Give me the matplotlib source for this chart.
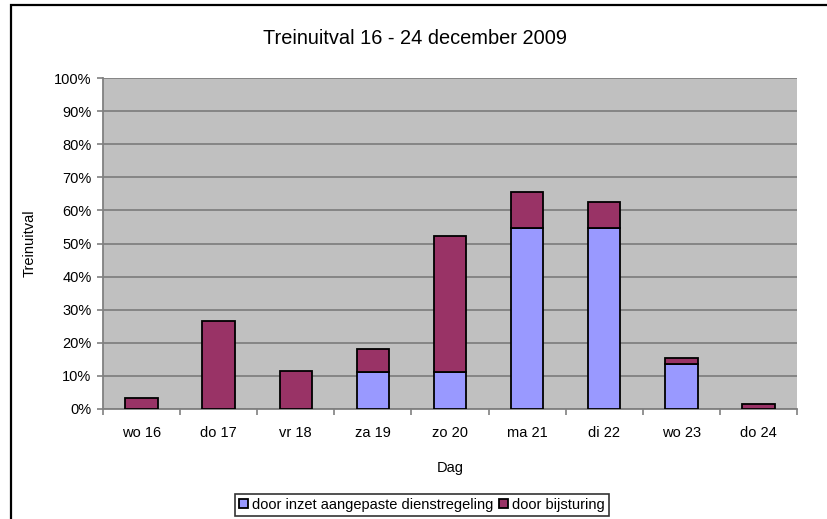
import matplotlib
matplotlib.use("Agg")
import matplotlib.pyplot as plt
from matplotlib.patches import Rectangle, Patch
from matplotlib.ticker import MultipleLocator, PercentFormatter
import numpy as np

plt.rcParams["font.family"] = ["Liberation Sans", "DejaVu Sans"]

dagen = ["wo 16", "do 17", "vr 18", "za 19", "zo 20", "ma 21", "di 22", "wo 23", "do 24"]
aangepast = [0.0, 0.0, 0.0, 11.3, 11.3, 54.8, 54.8, 13.5, 0.0]
bijsturing = [3.4, 26.5, 11.5, 6.7, 41.1, 10.9, 7.8, 2.0, 1.6]

kleur_blauw = "#9999FF"
kleur_paars = "#993366"

W, H = 828, 519
fig = plt.figure(figsize=(W / 100, H / 100), dpi=100)
# plot area in pixels: x 103..797, y 78..409
ax = fig.add_axes([103 / W, 1 - 409 / H, (797 - 103) / W, (409 - 78) / H])

x = np.arange(len(dagen))
w = 0.42
ax.bar(x, aangepast, w, color=kleur_blauw, edgecolor="black", linewidth=1.3, zorder=3)
ax.bar(x, bijsturing, w, bottom=aangepast, color=kleur_paars, edgecolor="black",
       linewidth=1.3, zorder=3)

ax.set_facecolor("#C0C0C0")
ax.set_xlim(-0.5, len(dagen) - 0.5)
ax.set_ylim(0, 100)
ax.yaxis.set_major_locator(MultipleLocator(10))
ax.yaxis.set_major_formatter(PercentFormatter(decimals=0))
ax.grid(axis="y", color="#808080", linewidth=1.3, zorder=1)

ax.set_xticks(x)
ax.set_xticklabels(dagen)
ax.set_xticks(np.arange(len(dagen) + 1) - 0.5, minor=True)
ax.tick_params(axis="x", which="major", length=0, pad=12, labelsize=10.5)
ax.tick_params(axis="x", which="minor", length=4.3, color="#808080", width=1.2)
ax.tick_params(axis="y", length=4.3, color="#808080", width=1.2, labelsize=10.5, pad=4)

for side in ["top", "right"]:
    ax.spines[side].set_visible(False)
for side in ["left", "bottom"]:
    ax.spines[side].set_color("#808080")
    ax.spines[side].set_linewidth(1.3)

ax.set_xlabel("Dag", fontsize=10.5, va="center")
ax.xaxis.set_label_coords(0.5, (409 - 468) / (409 - 78))
ax.set_ylabel("Treinuitval", fontsize=10.5, va="center")
ax.yaxis.set_label_coords((30 - 103) / (797 - 103), 0.5)

fig.text(415 / W, 1 - 38 / H, "Treinuitval 16 - 24 december 2009", ha="center", va="center",
         fontsize=14.4)

handles = [Patch(facecolor=kleur_blauw, edgecolor="black", linewidth=1.3),
           Patch(facecolor=kleur_paars, edgecolor="black", linewidth=1.3)]
leg = fig.legend(handles, ["door inzet aangepaste dienstregeling", "door bijsturing"],
                 loc="center", bbox_to_anchor=(422 / W, 1 - 505 / H), ncol=2,
                 fontsize=10.5, frameon=True, fancybox=False, handlelength=0.6,
                 handleheight=0.6, handletextpad=0.3, columnspacing=0.4,
                 borderpad=0.25, borderaxespad=0)
leg.get_frame().set_edgecolor("black")
leg.get_frame().set_linewidth(1.2)

# rand om de grafiek (rechts en onder buiten beeld)
fig.patches.append(Rectangle((11 / W, -20 / H), 840 / W, (H - 5 + 20) / H,
                             transform=fig.transFigure, fill=False, edgecolor="black",
                             linewidth=1.6))

fig.savefig("out.png", dpi=100)
